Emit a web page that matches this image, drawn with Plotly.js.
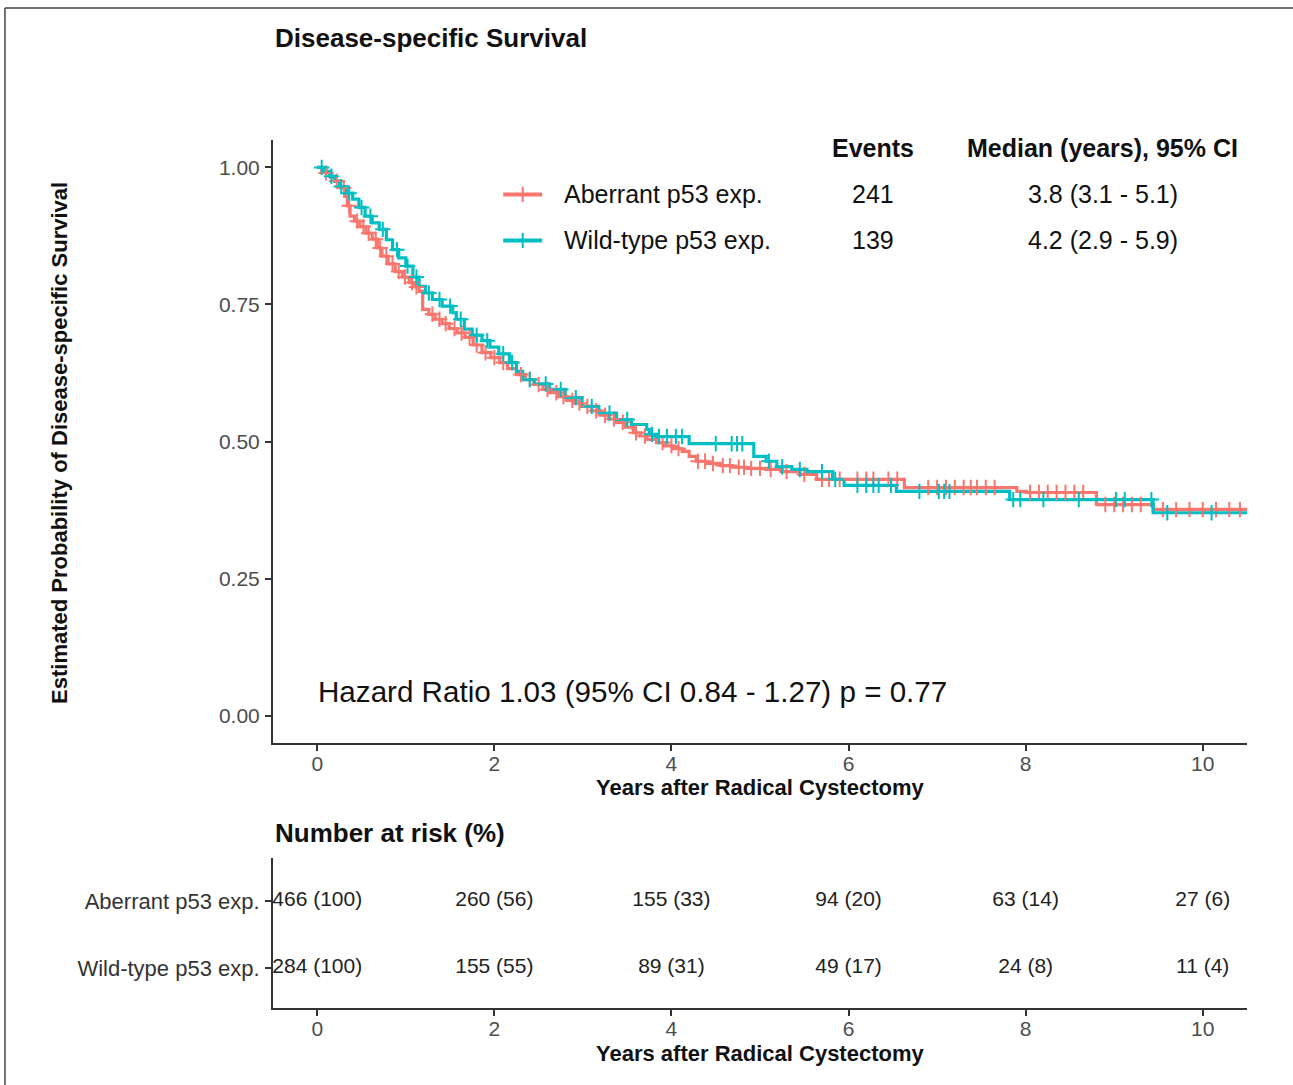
<!DOCTYPE html>
<html>
<head>
<meta charset="utf-8">
<script src="https://cdn.plot.ly/plotly-3.0.1.min.js"></script>
<style>html,body{margin:0;padding:0;background:#fff;}#chart{width:1293px;height:1085px;}</style>
</head>
<body>
<div id="chart"></div>
<script>
// ---- Data ----
const groupNames = ["Aberrant p53 exp.", "Wild-type p53 exp."];
const groupEvents = ["241", "139"];
const groupMedians = ["3.8 (3.1 - 5.1)", "4.2 (2.9 - 5.9)"];

const timeAb = [0,0.05,0.10,0.15,0.20,0.25,0.31,0.34,0.37,0.42,0.48,0.55,0.62,0.68,0.73,0.80,0.88,0.96,1.04,1.10,1.15,1.19,1.26,1.33,1.41,1.49,1.58,1.67,1.76,1.86,1.96,2.06,2.15,2.25,2.35,2.45,2.55,2.62,2.72,2.82,2.91,2.99,3.10,3.20,3.29,3.38,3.48,3.57,3.65,3.72,3.83,3.92,4.02,4.12,4.20,4.28,4.40,4.55,4.69,4.85,5.07,5.25,5.45,5.64,6.63,7.90,8.01,8.80,9.44,10.5];
const survAb = [1.000,0.995,0.990,0.982,0.975,0.963,0.947,0.930,0.911,0.902,0.892,0.880,0.869,0.853,0.838,0.824,0.810,0.800,0.790,0.782,0.774,0.741,0.732,0.723,0.715,0.706,0.698,0.690,0.676,0.662,0.653,0.644,0.633,0.622,0.613,0.604,0.595,0.589,0.582,0.575,0.570,0.564,0.556,0.548,0.541,0.535,0.526,0.516,0.510,0.504,0.498,0.492,0.487,0.482,0.473,0.464,0.460,0.456,0.453,0.451,0.449,0.445,0.440,0.431,0.416,0.409,0.407,0.385,0.376,0.376];

const timeWt = [0,0.07,0.14,0.20,0.25,0.33,0.40,0.47,0.54,0.62,0.70,0.78,0.85,0.92,1.00,1.08,1.15,1.22,1.30,1.41,1.53,1.57,1.66,1.75,1.86,1.95,2.05,2.17,2.25,2.32,2.45,2.62,2.80,2.99,3.18,3.38,3.55,3.72,3.75,3.83,4.20,4.93,5.07,5.19,5.36,5.53,5.82,5.95,6.54,7.82,9.44,10.5];
const survWt = [1.000,0.993,0.984,0.975,0.965,0.953,0.942,0.927,0.911,0.899,0.887,0.868,0.850,0.835,0.820,0.800,0.783,0.771,0.759,0.747,0.735,0.723,0.705,0.694,0.684,0.672,0.660,0.644,0.628,0.613,0.605,0.595,0.580,0.564,0.552,0.540,0.531,0.522,0.513,0.509,0.496,0.473,0.464,0.454,0.449,0.445,0.431,0.420,0.409,0.394,0.370,0.370];

const censorAb = [0.10,0.22,0.30,0.36,0.45,0.52,0.58,0.66,0.71,0.78,0.85,0.92,0.99,1.07,1.12,1.30,1.38,1.45,1.55,1.63,1.72,1.80,1.90,2.00,2.10,2.30,2.40,2.50,2.60,2.70,2.78,2.88,2.96,3.05,3.15,3.25,3.35,3.45,3.60,3.70,3.90,4.00,4.08,4.30,4.38,4.47,4.58,4.66,4.76,4.82,4.90,5.00,5.12,5.30,5.50,5.70,5.78,5.90,6.10,6.20,6.28,6.45,6.55,6.90,7.00,7.10,7.20,7.30,7.38,7.45,7.55,7.65,8.05,8.15,8.25,8.35,8.45,8.55,8.65,8.90,9.00,9.10,9.20,9.30,9.55,9.70,9.85,10.00,10.15,10.30,10.42];
const censorWt = [0.05,0.16,0.27,0.36,0.50,0.60,0.74,0.90,1.02,1.12,1.26,1.38,1.50,1.62,1.80,1.92,2.10,2.20,2.40,2.58,2.75,2.92,3.10,3.30,3.50,3.78,3.86,3.95,4.05,4.12,4.50,4.68,4.74,4.80,5.10,5.25,5.45,5.70,5.85,6.10,6.20,6.28,6.34,6.48,6.80,7.02,7.08,7.14,7.86,7.94,8.20,8.60,9.02,9.12,9.42,9.60,10.10];

const riskTimes = [0, 2, 4, 6, 8, 10];
const riskAbN = [466, 260, 155, 94, 63, 27];
const riskAbPct = [100, 56, 33, 20, 14, 6];
const riskWtN = [284, 155, 89, 49, 24, 11];
const riskWtPct = [100, 55, 31, 17, 8, 4];

const xTicks = [0, 2, 4, 6, 8, 10];
const yTicks = [0, 0.25, 0.5, 0.75, 1];
const yTickText = ["0.00", "0.25", "0.50", "0.75", "1.00"];

// ---- Helpers ----
function stepAt(times, surv, t) {
  let s = surv[0];
  for (let i = 0; i < times.length; i++) { if (times[i] <= t) s = surv[i]; else break; }
  return s;
}
const RED = "#F8766D", CYAN = "#00BFC4";
const FONT = "Liberation Sans, Arial, Helvetica, sans-serif";

const traces = [
  {x: timeAb, y: survAb, type: "scatter", mode: "lines", line: {shape: "hv", color: RED, width: 3.2}, xaxis: "x", yaxis: "y", showlegend: false, hoverinfo: "skip"},
  {x: timeWt, y: survWt, type: "scatter", mode: "lines", line: {shape: "hv", color: CYAN, width: 3.2}, xaxis: "x", yaxis: "y", showlegend: false, hoverinfo: "skip"},
  {x: censorAb, y: censorAb.map(t => stepAt(timeAb, survAb, t)), type: "scatter", mode: "markers",
   marker: {symbol: "cross-thin", size: 11, line: {color: RED, width: 2}}, xaxis: "x", yaxis: "y", showlegend: false, hoverinfo: "skip"},
  {x: censorWt, y: censorWt.map(t => stepAt(timeWt, survWt, t)), type: "scatter", mode: "markers",
   marker: {symbol: "cross-thin", size: 11, line: {color: CYAN, width: 2}}, xaxis: "x", yaxis: "y", showlegend: false, hoverinfo: "skip"},
  {x: riskTimes, y: riskTimes.map(() => 2), text: riskAbN.map((n, i) => n + " (" + riskAbPct[i] + ")"), type: "scatter", mode: "text",
   textfont: {family: FONT, size: 21, color: "#222"}, textposition: "middle center", xaxis: "x2", yaxis: "y2", showlegend: false, hoverinfo: "skip", cliponaxis: false},
  {x: riskTimes, y: riskTimes.map(() => 1), text: riskWtN.map((n, i) => n + " (" + riskWtPct[i] + ")"), type: "scatter", mode: "text",
   textfont: {family: FONT, size: 21, color: "#222"}, textposition: "middle center", xaxis: "x2", yaxis: "y2", showlegend: false, hoverinfo: "skip", cliponaxis: false}
];

const axisCommon = {
  showline: true, linecolor: "#333", linewidth: 2, ticks: "outside", ticklen: 6, tickwidth: 2, tickcolor: "#333",
  showgrid: false, zeroline: false, tickfont: {family: FONT, size: 21, color: "#4d4d4d"}, fixedrange: true
};

const legendRows = [0.9507, 0.8668];
const annotations = [
  {text: "<b>Disease-specific Survival</b>", xref: "paper", yref: "paper", x: 0, y: 1.1175, xanchor: "left", yanchor: "middle", showarrow: false, font: {family: FONT, size: 26, color: "#111"}},
  {text: "<b>Years after Radical Cystectomy</b>", xref: "paper", yref: "paper", x: 0.5, y: 0.2535, xanchor: "center", yanchor: "middle", showarrow: false, font: {family: FONT, size: 22, color: "#111"}},
  {text: "<b>Estimated Probability of Disease-specific Survival</b>", xref: "paper", yref: "paper", x: -0.2187, y: 0.651, textangle: -90, xanchor: "center", yanchor: "middle", showarrow: false, font: {family: FONT, size: 22, color: "#111"}},
  {text: "<b>Number at risk (%)</b>", xref: "paper", yref: "paper", x: 0, y: 0.2016, xanchor: "left", yanchor: "middle", showarrow: false, font: {family: FONT, size: 26, color: "#111"}},
  {text: "<b>Years after Radical Cystectomy</b>", xref: "paper", yref: "paper", x: 0.5, y: -0.0525, xanchor: "center", yanchor: "middle", showarrow: false, font: {family: FONT, size: 22, color: "#111"}},
  {text: "Hazard Ratio 1.03 (95% CI 0.84 - 1.27) p = 0.77", xref: "x", yref: "y", x: -0.01, y: 0.0438, xanchor: "left", yanchor: "middle", showarrow: false, font: {family: FONT, size: 29.6, color: "#111"}},
  {text: "<b>Events</b>", xref: "x", yref: "y", x: 6.28, y: 1.036, xanchor: "center", yanchor: "middle", showarrow: false, font: {family: FONT, size: 25, color: "#111"}},
  {text: "<b>Median (years), 95% CI</b>", xref: "x", yref: "y", x: 8.87, y: 1.036, xanchor: "center", yanchor: "middle", showarrow: false, font: {family: FONT, size: 25, color: "#111"}}
];
groupNames.forEach((name, i) => {
  annotations.push({text: name, xref: "x", yref: "y", x: 2.76, y: legendRows[i], xanchor: "left", yanchor: "middle", showarrow: false, font: {family: FONT, size: 25, color: "#111"}});
  annotations.push({text: groupEvents[i], xref: "x", yref: "y", x: 6.28, y: legendRows[i], xanchor: "center", yanchor: "middle", showarrow: false, font: {family: FONT, size: 25, color: "#111"}});
  annotations.push({text: groupMedians[i], xref: "x", yref: "y", x: 8.87, y: legendRows[i], xanchor: "center", yanchor: "middle", showarrow: false, font: {family: FONT, size: 25, color: "#111"}});
});

const legendColors = [RED, CYAN];
const shapes = [];
legendRows.forEach((yy, i) => {
  shapes.push({type: "line", xref: "x", yref: "y", x0: 2.10, x1: 2.54, y0: yy, y1: yy, line: {color: legendColors[i], width: 4}});
  shapes.push({type: "line", xref: "x", yref: "y", x0: 2.32, x1: 2.32, y0: yy - 0.014, y1: yy + 0.014, line: {color: legendColors[i], width: 2}});
});
// outer frame (left and top edges visible in reference)
shapes.push({type: "line", xref: "paper", yref: "paper", x0: -0.2752, x1: -0.2752, y0: 1.152, y1: -0.12, line: {color: "#444", width: 1.5}});
shapes.push({type: "line", xref: "paper", yref: "paper", x0: -0.2752, x1: 1.06, y0: 1.152, y1: 1.152, line: {color: "#444", width: 1.5}});

const layout = {
  width: 1293, height: 1085,
  margin: {l: 273, r: 46, t: 140, b: 77, pad: 0},
  paper_bgcolor: "#fff", plot_bgcolor: "#fff",
  font: {family: FONT},
  showlegend: false,
  xaxis: Object.assign({}, axisCommon, {domain: [0, 1], range: [-0.5, 10.5], tickvals: xTicks, anchor: "y", ticklabelstandoff: -5}),
  yaxis: Object.assign({}, axisCommon, {domain: [0.3053, 1], range: [-0.05, 1.05], tickvals: yTicks, ticktext: yTickText, anchor: "x", ticklabelstandoff: 1}),
  xaxis2: Object.assign({}, axisCommon, {domain: [0, 1], range: [-0.5, 10.5], tickvals: xTicks, anchor: "y2", ticklabelstandoff: -5}),
  yaxis2: Object.assign({}, axisCommon, {domain: [0, 0.1728], range: [0.4, 2.64], tickvals: [2, 1], ticktext: groupNames, anchor: "x2", ticklabelstandoff: 1, tickfont: {family: FONT, size: 22, color: "#333"}}),
  annotations: annotations,
  shapes: shapes
};

Plotly.newPlot("chart", traces, layout, {displayModeBar: false, staticPlot: true});
</script>
</body>
</html>
